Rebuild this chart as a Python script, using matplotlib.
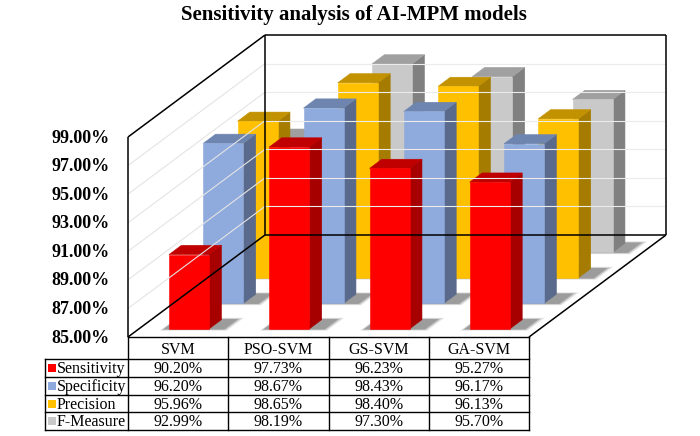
import matplotlib.pyplot as plt
from matplotlib.patches import Polygon

# data
models = ['SVM', 'PSO-SVM', 'GS-SVM', 'GA-SVM']
metrics = ['Sensitivity', 'Specificity', 'Precision', 'F-Measure']
sensitivity = [90.20, 97.73, 96.23, 95.27]
specificity = [96.20, 98.67, 98.43, 96.17]
precision = [95.96, 98.65, 98.40, 96.13]
f_measure = [92.99, 98.19, 97.30, 95.70]
values = [sensitivity, specificity, precision, f_measure]
ticks = [85, 87, 89, 91, 93, 95, 97, 99]

# colours: front, side, top
colors = [('#FF0000', '#A60000', '#C00000'),
          ('#8FAADC', '#5A6A8C', '#6E85B0'),
          ('#FFC000', '#A67C00', '#C29200'),
          ('#C9C9C9', '#808080', '#A0A0A0')]

plt.rcParams['font.family'] = ['Liberation Serif', 'DejaVu Serif']

fig = plt.figure(figsize=(7, 4.36), dpi=100)
ax = fig.add_axes([0, 0, 1, 1])
ax.set_xlim(0, 700)
ax.set_ylim(436, 0)
ax.axis('off')

# oblique projection of the 3d box
X0, Y0, W, H = 128, 337, 401, 200
DX, DY = 137, -102
vmin, vmax = ticks[0], ticks[-1]


def proj(u, v, d):
    x = X0 + u * W / len(models) + d * DX
    y = Y0 - (v - vmin) / (vmax - vmin) * H + d * DY
    return (x, y)


def line(p, q, **kw):
    ax.plot([p[0], q[0]], [p[1], q[1]], solid_capstyle='butt', **kw)


# grid on back wall and left wall
for t in ticks[1:-1]:
    line(proj(0, t, 0), proj(0, t, 1), color='#E4E4E4', lw=0.8)
    line(proj(0, t, 1), proj(4, t, 1), color='#EBEBEB', lw=0.8)

# box edges
line(proj(0, vmin, 0), proj(0, vmax, 0), color='black', lw=1.1)
line(proj(0, vmax, 0), proj(0, vmax, 1), color='black', lw=1.1)
line(proj(0, vmax, 1), proj(4, vmax, 1), color='black', lw=1.1)
line(proj(4, vmax, 1), proj(4, vmin, 1), color='black', lw=1.1)
line(proj(0, vmin, 1), proj(0, vmax, 1), color='black', lw=1.1)
line(proj(0, vmin, 0), proj(0, vmin, 1), color='black', lw=1.1)
line(proj(4, vmin, 0), proj(4, vmin, 1), color='black', lw=1.1)
line(proj(0, vmin, 1), proj(4, vmin, 1), color='black', lw=1.1)

for t in ticks:
    ax.text(110, proj(0, t, 0)[1] + 1, '%.2f%%' % t, ha='right', va='center',
            fontsize=13, fontweight='bold')

ax.text(354, 15, 'Sensitivity analysis of AI-MPM models', ha='center',
        va='center', fontsize=15, fontweight='bold')

# bars, back rows first
bw = 0.4
bd = 0.09
for i in reversed(range(len(metrics))):
    fc, sc, tc = colors[i]
    d0 = (i + 0.5) / len(metrics) - bd / 2
    d1 = d0 + bd
    for j in range(len(models)):
        v = values[i][j]
        u0 = j + 0.5 - bw / 2
        u1 = u0 + bw
        # soft shadow on floor
        for k, a in enumerate([0.10, 0.14, 0.20]):
            e = 0.06 - k * 0.02
            shadow = [proj(u0 - 0.04 - e * 0.5, vmin, d0 - e * 0.3),
                      proj(u1 + 0.14 + e, vmin, d0 - e * 0.3),
                      proj(u1 + 0.14 + e, vmin, d1 + e * 0.3),
                      proj(u0 - 0.04 - e * 0.5, vmin, d1 + e * 0.3)]
            ax.add_patch(Polygon(shadow, closed=True, fc='black', ec='none',
                                 alpha=a))
        side = [proj(u1, vmin, d0), proj(u1, vmin, d1),
                proj(u1, v, d1), proj(u1, v, d0)]
        top = [proj(u0, v, d0), proj(u1, v, d0),
               proj(u1, v, d1), proj(u0, v, d1)]
        front = [proj(u0, vmin, d0), proj(u1, vmin, d0),
                 proj(u1, v, d0), proj(u0, v, d0)]
        ax.add_patch(Polygon(side, closed=True, fc=sc, ec=sc, lw=0.4))
        ax.add_patch(Polygon(top, closed=True, fc=tc, ec=tc, lw=0.4))
        ax.add_patch(Polygon(front, closed=True, fc=fc, ec=fc, lw=0.4))

# data table
col_x = [45] + [proj(j, vmin, 0)[0] for j in range(len(models) + 1)]
row_y = [337, 359, 377, 395, 412, 430]
right = col_x[-1]

ax.add_patch(plt.Rectangle((col_x[1], row_y[0]), right - col_x[1],
                           row_y[-1] - row_y[0], fc='white', ec='none',
                           zorder=3))
ax.add_patch(plt.Rectangle((col_x[0], row_y[1]), col_x[1] - col_x[0],
                           row_y[-1] - row_y[1], fc='white', ec='none',
                           zorder=3))
for k, y in enumerate(row_y):
    x_start = col_x[1] if k == 0 else col_x[0]
    ax.plot([x_start, right], [y, y], color='black', lw=1.0, zorder=4)
for k, x in enumerate(col_x):
    y_start = row_y[1] if k == 0 else row_y[0]
    ax.plot([x, x], [y_start, row_y[-1]], color='black', lw=1.0, zorder=4)

for j, m in enumerate(models):
    cx = (col_x[j + 1] + col_x[j + 2]) / 2
    ax.text(cx, (row_y[0] + row_y[1]) / 2 + 2, m, ha='center', va='center',
            fontsize=11.5, zorder=5)
    for i in range(len(metrics)):
        cy = (row_y[i + 1] + row_y[i + 2]) / 2 + 1
        ax.text(cx, cy, '%.2f%%' % values[i][j], ha='center', va='center',
                fontsize=11.5, zorder=5)

for i, name in enumerate(metrics):
    cy = (row_y[i + 1] + row_y[i + 2]) / 2
    ax.add_patch(plt.Rectangle((48, cy - 4), 8, 8, fc=colors[i][0],
                               ec='none', zorder=5))
    ax.text(57, cy + 1, name, ha='left', va='center', fontsize=11.5, zorder=5)

fig.savefig('out.png', dpi=100)
